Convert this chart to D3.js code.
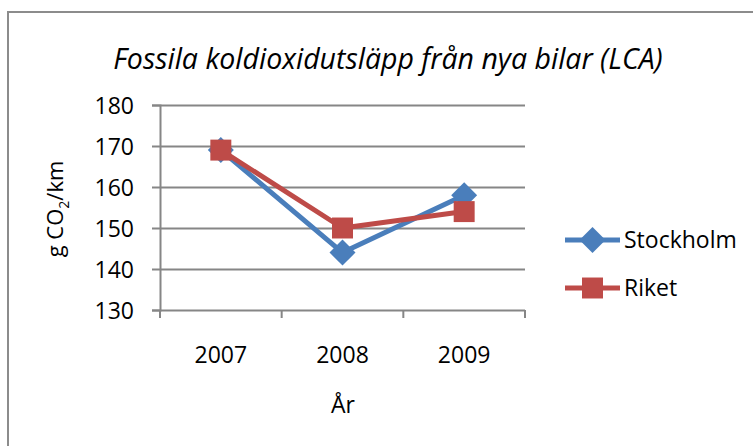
<!DOCTYPE html>
<html>
<head>
<meta charset="utf-8">
<script src="https://cdn.jsdelivr.net/npm/d3@7"></script>
<style>
  body { margin: 0; background: #fff; }
  svg text { font-family: "Open Sans", "Liberation Sans", sans-serif; fill: #000; }
</style>
</head>
<body>
<svg id="chart" width="753" height="446"></svg>
<script>
'use strict';

// chart data
var years = ['2007', '2008', '2009'];
var seriesNames = ['Stockholm', 'Riket'];
var stockholmValues = [169, 144, 158];
var riketValues = [169, 150, 154];
var yTicks = [130, 140, 150, 160, 170, 180];

var colors = { Stockholm: '#4A7EBB', Riket: '#BE4B48' };
var series = [
  { name: seriesNames[0], values: stockholmValues, symbol: d3.symbolDiamond2, size: 430 },
  { name: seriesNames[1], values: riketValues, symbol: d3.symbolSquare2, size: 560 }
];

var svg = d3.select('#chart');

// outer frame
svg.append('rect')
  .attr('x', 8).attr('y', 12)
  .attr('width', 760).attr('height', 450)
  .attr('fill', 'none')
  .attr('stroke', '#8c8c8c')
  .attr('stroke-width', 2);

var plot = { left: 160, right: 525, top: 105, bottom: 310 };

var x = d3.scaleBand().domain(years).range([plot.left, plot.right]);
var y = d3.scaleLinear().domain([130, 180]).range([plot.bottom, plot.top]);

// horizontal gridlines + y ticks
var yAxis = d3.axisLeft(y).tickValues(yTicks).tickSize(8).tickPadding(18);
var gy = svg.append('g')
  .attr('transform', 'translate(' + plot.left + ',0)')
  .call(yAxis);
gy.select('.domain').attr('stroke', '#868686').attr('stroke-width', 2);
gy.selectAll('.tick line').attr('stroke', '#868686').attr('stroke-width', 2)
  .attr('x1', -8).attr('x2', plot.right - plot.left);
gy.selectAll('.tick text').attr('font-size', 23).attr('dy', '0.36em');

// x axis
var xAxis = d3.axisBottom(x).tickSize(0).tickPadding(0);
var gx = svg.append('g')
  .attr('transform', 'translate(0,' + plot.bottom + ')')
  .call(xAxis);
gx.select('.domain').remove();
gx.selectAll('.tick text').attr('font-size', 23).attr('y', 53).attr('dy', 0);

// category boundary ticks
var bounds = years.map(function (d) { return x(d); }).concat([plot.right]);
svg.append('g').selectAll('line')
  .data(bounds)
  .enter()
  .append('line')
  .attr('x1', function (d) { return d; })
  .attr('x2', function (d) { return d; })
  .attr('y1', plot.bottom)
  .attr('y2', plot.bottom + 8)
  .attr('stroke', '#868686')
  .attr('stroke-width', 2);

// series lines
var line = d3.line()
  .x(function (d, i) { return x(years[i]) + x.bandwidth() / 2; })
  .y(function (d) { return y(d); });

series.forEach(function (s) {
  svg.append('path')
    .datum(s.values)
    .attr('d', line)
    .attr('fill', 'none')
    .attr('stroke', colors[s.name])
    .attr('stroke-width', 5)
    .attr('stroke-linejoin', 'round');

  svg.append('g').selectAll('path')
    .data(s.values)
    .enter()
    .append('path')
    .attr('d', d3.symbol().type(s.symbol).size(s.size))
    .attr('transform', function (d, i) {
      return 'translate(' + (x(years[i]) + x.bandwidth() / 2) + ',' + y(d) + ')';
    })
    .attr('fill', colors[s.name]);
});

// title
svg.append('text')
  .attr('x', 388).attr('y', 69)
  .attr('text-anchor', 'middle')
  .attr('font-size', 28.5)
  .attr('font-style', 'italic')
  .text('Fossila koldioxidutsläpp från nya bilar (LCA)');

// axis titles
var yLabel = svg.append('text')
  .attr('transform', 'translate(63,209) rotate(-90)')
  .attr('text-anchor', 'middle')
  .attr('font-size', 22);
yLabel.append('tspan').text('g CO');
yLabel.append('tspan').attr('font-size', 14).attr('dy', 6).text('2');
yLabel.append('tspan').attr('dy', -6).text('/km');

svg.append('text')
  .attr('x', 343).attr('y', 413)
  .attr('text-anchor', 'middle')
  .attr('font-size', 23)
  .text('År');

// legend
var legend = svg.append('g').selectAll('g')
  .data(series)
  .enter()
  .append('g')
  .attr('transform', function (d, i) { return 'translate(565,' + (240 + i * 48) + ')'; });

legend.append('line')
  .attr('x1', 0).attr('x2', 55)
  .attr('stroke', function (d) { return colors[d.name]; })
  .attr('stroke-width', 5);

legend.append('path')
  .attr('transform', 'translate(27.5,0)')
  .attr('d', function (d) { return d3.symbol().type(d.symbol).size(d.size)(); })
  .attr('fill', function (d) { return colors[d.name]; });

legend.append('text')
  .attr('x', 59).attr('y', 0).attr('dy', '0.36em')
  .attr('font-size', 23)
  .text(function (d) { return d.name; });
</script>
</body>
</html>
